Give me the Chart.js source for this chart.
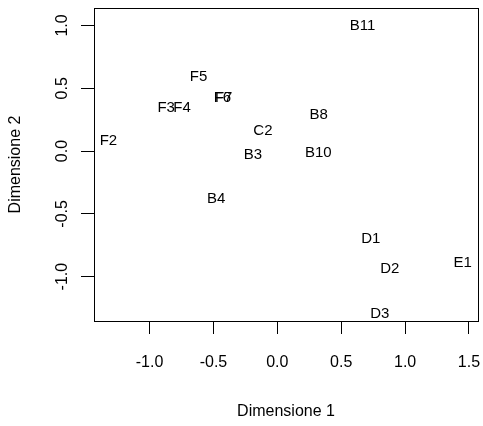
<!DOCTYPE html>
<html>
<head>
<meta charset="utf-8">
<script src="https://cdn.jsdelivr.net/npm/chart.js@4.4.0/dist/chart.umd.min.js"></script>
<style>
  html, body { margin: 0; padding: 0; background: #fff; }
  #wrap { width: 483px; height: 426px; }
</style>
</head>
<body>
<div id="wrap"><canvas id="mds"></canvas></div>
<script>
// Etichette e coordinate delle due dimensioni
var etichette = ['B11', 'F5', 'F6', 'F7', 'F3', 'F4', 'F2', 'C2', 'B8', 'B3', 'B10', 'B4', 'D1', 'E1', 'D2', 'D3'];
var dim1 = [0.666, -0.617, -0.43, -0.42, -0.870, -0.746, -1.322, -0.113, 0.324, -0.191, 0.321, -0.478, 0.731, 1.450, 0.880, 0.802];
var dim2 = [0.998, 0.592, 0.42, 0.42, 0.341, 0.341, 0.082, 0.162, 0.289, -0.030, -0.011, -0.382, -0.701, -0.888, -0.940, -1.299];

// Tacche degli assi
var tickX = [-1.0, -0.5, 0.0, 0.5, 1.0, 1.5];
var tickY = [-1.0, -0.5, 0.0, 0.5, 1.0];

var FONT = '"Liberation Sans", Arial, sans-serif';

function fmt(v) {
    return Number(v).toFixed(1);
}

// Riquadro del grafico e testi sui punti
var testiPlugin = {
    id: 'testi',
    afterDatasetsDraw: function(chart) {
        var ctx = chart.ctx;
        var a = chart.chartArea;
        var sx = chart.scales.x, sy = chart.scales.y;
        ctx.save();
        ctx.strokeStyle = '#000';
        ctx.lineWidth = 1;
        ctx.strokeRect(Math.round(a.left) + 0.5, Math.round(a.top) + 0.5,
            Math.round(a.right - a.left), Math.round(a.bottom - a.top));
        ctx.fillStyle = '#000';
        ctx.font = '15px ' + FONT;
        ctx.textAlign = 'center';
        ctx.textBaseline = 'middle';
        etichette.forEach(function(lab, i) {
            ctx.fillText(lab, sx.getPixelForValue(dim1[i]), sy.getPixelForValue(dim2[i]));
        });
        ctx.restore();
    }
};

var ctx = document.getElementById('mds').getContext('2d');
var grafico = new Chart(ctx, {
    type: 'scatter',
    data: {
        datasets: [{
            data: dim1.map(function(x, i) { return { x: x, y: dim2[i] }; }),
            pointRadius: 0,
            pointHoverRadius: 0
        }]
    },
    options: {
        responsive: true,
        maintainAspectRatio: false,
        animation: false,
        events: [],
        layout: { padding: { top: 8, right: 5, left: 0, bottom: 0 } },
        plugins: { legend: { display: false }, tooltip: { enabled: false } },
        scales: {
            x: {
                type: 'linear',
                min: -1.435,
                max: 1.5705,
                afterFit: function(s) {
                    s.height = 105;
                    s.paddingLeft = 0;
                    s.paddingRight = 0;
                },
                afterBuildTicks: function(s) { s.ticks = tickX.map(function(v) { return { value: v }; }); },
                border: { display: true, color: '#000', width: 1 },
                grid: { drawOnChartArea: false, drawTicks: true, tickLength: 13, color: '#000', tickColor: '#000' },
                ticks: {
                    color: '#000',
                    font: { size: 16, family: FONT },
                    padding: 19,
                    maxRotation: 0,
                    autoSkip: false,
                    callback: function(v) { return fmt(v); }
                },
                title: {
                    display: true,
                    text: 'Dimensione 1',
                    color: '#000',
                    font: { size: 16, family: FONT },
                    padding: { top: 0, bottom: 5 }
                }
            },
            y: {
                type: 'linear',
                min: -1.353,
                max: 1.139,
                afterFit: function(s) {
                    s.width = 94;
                    s.paddingTop = 0;
                    s.paddingBottom = 0;
                },
                afterBuildTicks: function(s) { s.ticks = tickY.map(function(v) { return { value: v }; }); },
                border: { display: true, color: '#000', width: 1 },
                grid: { drawOnChartArea: false, drawTicks: true, tickLength: 13, color: '#000', tickColor: '#000' },
                ticks: {
                    color: '#000',
                    font: { size: 16, family: FONT },
                    padding: 5,
                    minRotation: 90,
                    maxRotation: 90,
                    crossAlign: 'center',
                    autoSkip: false,
                    callback: function(v) { return fmt(v); }
                },
                title: {
                    display: true,
                    text: 'Dimensione 2',
                    color: '#000',
                    font: { size: 16, family: FONT },
                    padding: { top: 6, bottom: 0 }
                }
            }
        }
    },
    plugins: [testiPlugin]
});
</script>
</body>
</html>
